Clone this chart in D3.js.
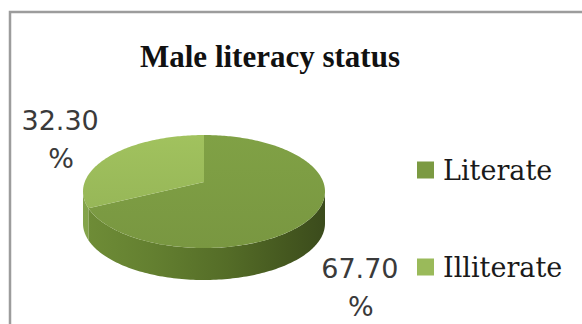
<!DOCTYPE html>
<html>
<head>
<meta charset="utf-8">
<script src="https://cdn.jsdelivr.net/npm/d3@7/dist/d3.min.js"></script>
<style>
  html, body { margin: 0; padding: 0; background: #fff; }
  svg { display: block; }
</style>
</head>
<body>
<svg id="chart" width="582" height="324"></svg>
<script>
// ---- data ----
const title = "Male literacy status";
const categories = ["Literate", "Illiterate"];
const values = [67.70, 32.30];

// ---- style / layout ----
const W = 582, H = 324;
const topColors = ["#7b9a42", "#9aba5a"];
const sideLight = ["#6f8d37", "#84a44b"];
const cx = 204, cy = 191.5, rx = 121, ry = 56.5, depth = 32;
const k = -0.17;                        // perspective tilt
const norm = 1 / Math.sqrt(1 - k * k);

const svg = d3.select("#chart");
const defs = svg.append("defs");

// border
svg.append("path")
  .attr("d", `M10,${H} L10,12 L${W},12`)
  .attr("fill", "none")
  .attr("stroke", "#9c9c9c")
  .attr("stroke-width", 2.5);

// title
svg.append("text")
  .attr("x", 270).attr("y", 67)
  .attr("text-anchor", "middle")
  .attr("font-family", "'Liberation Serif', serif")
  .attr("font-weight", "bold")
  .attr("font-size", 31)
  .attr("fill", "#111")
  .text(title);

// projection of a unit circle point (angle a, 0 = 12 o'clock, clockwise)
function proj(a, lift) {
  const X = Math.sin(a), Y = -Math.cos(a);
  const w = 1 + k * Y;
  const px = (X / w) / norm, py = (Y + k) / w;
  return [cx + rx * px, cy + ry * py + (lift || 0)];
}
const vertex = [cx, cy + ry * k];

function arcPoints(a0, a1, lift) {
  const n = Math.max(2, Math.ceil(Math.abs(a1 - a0) / 0.02));
  return d3.range(n + 1).map(i => proj(a0 + (a1 - a0) * i / n, lift));
}

const pie = d3.pie().sort(null).value(d => d).startAngle(0).endAngle(2 * Math.PI);
const arcs = pie(values);

// find front half (leftmost / rightmost rim points)
const samples = d3.range(0, 2 * Math.PI, 0.001);
const aR = samples.filter(a => a < Math.PI).reduce((b, a) => proj(a)[0] > proj(b)[0] ? a : b, 0.5);
const aL = samples.filter(a => a > Math.PI).reduce((b, a) => proj(a)[0] < proj(b)[0] ? a : b, 4.5);

// side gradients
arcs.forEach((d, i) => {
  const g = defs.append("linearGradient")
    .attr("id", "side" + i)
    .attr("gradientUnits", "userSpaceOnUse")
    .attr("x1", cx - rx).attr("x2", cx + rx).attr("y1", 0).attr("y2", 0);
  const stops = i === 0
    ? [[0, sideLight[0]], [0.3, "#637f30"], [0.6, "#546c27"], [0.85, "#44571f"], [1, "#3b4b1c"]]
    : [[0, sideLight[1]], [0.3, "#7a9a42"], [1, "#5f7b2e"]];
  stops.forEach(s => g.append("stop").attr("offset", s[0]).attr("stop-color", s[1]));
});

// sides
const line = d3.line();
arcs.forEach((d, i) => {
  const a0 = Math.max(d.startAngle, aR), a1 = Math.min(d.endAngle, aL);
  if (a1 <= a0) return;
  const topPts = arcPoints(a0, a1, 0);
  const botPts = arcPoints(a1, a0, depth);
  svg.append("path")
    .attr("d", line(topPts.concat(botPts)) + "Z")
    .attr("fill", `url(#side${i})`);
});

// top gradients
arcs.forEach((d, i) => {
  const g = defs.append("linearGradient")
    .attr("id", "top" + i)
    .attr("x1", 0).attr("x2", 0).attr("y1", 0).attr("y2", 1);
  const c = d3.color(topColors[i]);
  g.append("stop").attr("offset", 0).attr("stop-color", c.brighter(0.12));
  g.append("stop").attr("offset", 1).attr("stop-color", c.darker(0.05));
});

// top faces
arcs.forEach((d, i) => {
  const pts = [vertex].concat(arcPoints(d.startAngle, d.endAngle, 0));
  svg.append("path")
    .attr("d", line(pts) + "Z")
    .attr("fill", `url(#top${i})`);
});

// data labels (best-fit style, placed outside along the slice's mid angle)
const labelNudge = [[12, 34], [0, -4]];
const fmt = d3.format(".2f");
arcs.forEach((d, i) => {
  const mid = (d.startAngle + d.endAngle) / 2;
  const X = Math.sin(mid), Y = -Math.cos(mid);
  const front = Y > 0;
  const x = cx + rx * X * 1.4 + labelNudge[i][0];
  const y = cy + ry * k + ry * Y * 1.3 + (front ? depth : 0) + labelNudge[i][1];
  const t = svg.append("text")
    .attr("text-anchor", "middle")
    .attr("font-family", "'DejaVu Sans', sans-serif")
    .attr("font-size", 27)
    .attr("fill", "#3a3a3a");
  t.append("tspan").attr("x", x).attr("y", y - 9).text(fmt(d.data));
  t.append("tspan").attr("x", x + 1).attr("y", y + 29).text("%");
});

// legend
const legendY = d3.scalePoint().domain(categories).range([170, 267]);
const lg = svg.append("g");
categories.forEach((c, i) => {
  lg.append("rect")
    .attr("x", 417).attr("y", legendY(c) - 8.5)
    .attr("width", 17).attr("height", 17)
    .attr("fill", topColors[i]);
  lg.append("text")
    .attr("x", 443).attr("y", legendY(c) + 10)
    .attr("font-family", "'DejaVu Serif', serif")
    .attr("font-size", 27)
    .attr("fill", "#1a1a1a")
    .text(c);
});
</script>
</body>
</html>
